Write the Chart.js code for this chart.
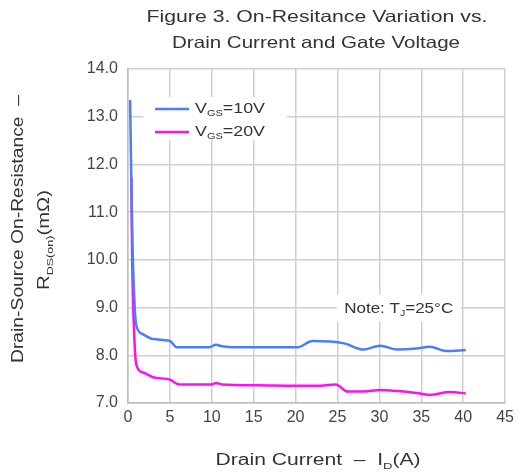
<!DOCTYPE html>
<html>
<head>
<meta charset="utf-8">
<script src="https://cdn.jsdelivr.net/npm/chart.js@4.4.1/dist/chart.umd.min.js"></script>
<style>
  html, body { margin: 0; padding: 0; background: #fff; }
  #chart { width: 519px; height: 474px; }
</style>
</head>
<body>
<div id="chart"><canvas id="c"></canvas></div>
<script>
// Drain current (A) and on-resistance (mOhm)
const current10 = [0.25, 0.5, 0.8, 1.0, 1.8, 3.0, 5.0, 5.8, 9.7, 10.5, 11.2, 12.8, 20.3, 22.0, 25.8, 28.1, 30.1, 32.1, 34.4, 36.0, 38.0, 40.3];
const rds10 = [13.35, 10.6, 9.0, 8.62, 8.44, 8.34, 8.3, 8.17, 8.17, 8.22, 8.19, 8.17, 8.17, 8.3, 8.25, 8.12, 8.2, 8.12, 8.14, 8.18, 8.09, 8.11];
const current20 = [0.4, 0.5, 0.75, 1.0, 1.8, 3.0, 5.0, 6.1, 10.0, 10.5, 11.2, 15.5, 20.3, 23.0, 24.8, 26.2, 28.1, 30.1, 32.1, 34.4, 36.0, 38.4, 40.3];
const rds20 = [11.72, 10.0, 8.4, 7.8, 7.64, 7.54, 7.49, 7.39, 7.39, 7.42, 7.39, 7.37, 7.36, 7.36, 7.39, 7.24, 7.24, 7.27, 7.25, 7.21, 7.17, 7.23, 7.2];
const xTicks = [0, 5, 10, 15, 20, 25, 30, 35, 40, 45];
const yTicks = [7, 8, 9, 10, 11, 12, 13, 14];

const FONT = '"Liberation Sans", Arial, sans-serif';
const TEXT = '#333';

// draw text made of normal and subscript parts, stretched to a given width
function drawRich(ctx, parts, x, y, size, width) {
  let w = 0;
  parts.forEach(p => {
    ctx.font = (p.sub ? size * 0.62 : size) + 'px ' + FONT;
    p.w = ctx.measureText(p.t).width;
    w += p.w;
  });
  const sx = width ? width / w : 1;
  ctx.save();
  ctx.translate(x, y);
  ctx.scale(sx, 1);
  let cx = -w / 2;
  ctx.textAlign = 'left';
  ctx.textBaseline = 'middle';
  parts.forEach(p => {
    ctx.font = (p.sub ? size * 0.62 : size) + 'px ' + FONT;
    ctx.fillText(p.t, cx, p.sub ? size * 0.3 : 0);
    cx += p.w;
  });
  ctx.restore();
}

const labelsPlugin = {
  id: 'labels',
  afterDraw(chart) {
    const ctx = chart.ctx;
    const xs = chart.scales.x, ys = chart.scales.y;
    ctx.save();
    ctx.fillStyle = TEXT;

    // title
    drawRich(ctx, [{ t: 'Figure 3. On-Resitance Variation vs.' }], 317, 17, 16.5, 341);
    drawRich(ctx, [{ t: 'Drain Current and Gate Voltage' }], 316, 43, 16.5, 288);

    // x axis title
    drawRich(ctx, [{ t: 'Drain Current  \u2013  I' }, { t: 'D', sub: true }, { t: '(A)' }], 318, 461, 16, 205);

    // y axis title (rotated)
    ctx.save();
    ctx.translate(19, 229);
    ctx.rotate(-Math.PI / 2);
    drawRich(ctx, [{ t: 'Drain-Source On-Resistance  \u2013' }], 0, 0, 16, 268);
    ctx.restore();
    ctx.save();
    ctx.translate(45, 240);
    ctx.rotate(-Math.PI / 2);
    drawRich(ctx, [{ t: 'R' }, { t: 'DS(on)', sub: true }, { t: '(m\u03a9)' }], 0, 0, 16, 100);
    ctx.restore();

    // legend box
    ctx.fillStyle = '#fff';
    ctx.fillRect(143, 97, 144, 43);
    const items = [
      { color: '#4a7dff', v: '10V', y: 109 },
      { color: '#ff10f0', v: '20V', y: 132 }
    ];
    items.forEach(it => {
      ctx.strokeStyle = it.color;
      ctx.lineWidth = 2.5;
      ctx.beginPath();
      ctx.moveTo(155, it.y);
      ctx.lineTo(189, it.y);
      ctx.stroke();
      ctx.fillStyle = TEXT;
      drawRich(ctx, [{ t: 'V' }, { t: 'GS', sub: true }, { t: '=' + it.v }], 230, it.y, 15, 70);
    });

    // note box
    const nx = xs.getPixelForValue(32.3), ny = ys.getPixelForValue(9.0);
    ctx.fillStyle = '#fff';
    ctx.fillRect(nx - 62, ny - 13, 124, 27);
    ctx.fillStyle = TEXT;
    drawRich(ctx, [{ t: 'Note: T' }, { t: 'J', sub: true }, { t: '=25\u00b0C' }], nx, ny + 1, 15, 109);
    ctx.restore();
  }
};

const toPoints = (xs, ys) => xs.map((x, i) => ({ x: x, y: ys[i] }));

new Chart(document.getElementById('c'), {
  type: 'line',
  data: {
    datasets: [
      {
        label: 'VGS=10V',
        data: toPoints(current10, rds10),
        borderColor: '#4a7dff',
        borderWidth: 2.5,
        pointRadius: 0,
        cubicInterpolationMode: 'monotone',
        fill: false
      },
      {
        label: 'VGS=20V',
        data: toPoints(current20, rds20),
        borderColor: '#ff10f0',
        borderWidth: 2.5,
        pointRadius: 0,
        cubicInterpolationMode: 'monotone',
        fill: false
      }
    ]
  },
  options: {
    responsive: true,
    maintainAspectRatio: false,
    animation: false,
    layout: { padding: { top: 69, right: 9, left: 0, bottom: 0 } },
    plugins: { legend: { display: false }, tooltip: { enabled: false } },
    scales: {
      x: {
        type: 'linear',
        min: 0,
        max: 45,
        afterFit: s => { s.height = 71; },
        afterBuildTicks: s => { s.ticks = xTicks.map(v => ({ value: v })); },
        ticks: { color: '#444', font: { family: FONT, size: 16 }, padding: 5, callback: v => v },
        grid: { color: '#cfcfcf', lineWidth: 1.5, drawTicks: false },
        border: { color: '#bdbdbd', width: 1.5 }
      },
      y: {
        min: 7,
        max: 14,
        afterFit: s => { s.width = 128; },
        afterBuildTicks: s => { s.ticks = yTicks.map(v => ({ value: v })); },
        ticks: { color: '#444', font: { family: FONT, size: 16 }, padding: 10, callback: v => v.toFixed(1) },
        grid: { color: '#cfcfcf', lineWidth: 1.5, drawTicks: false },
        border: { color: '#bdbdbd', width: 1.5 }
      }
    }
  },
  plugins: [labelsPlugin]
});
</script>
</body>
</html>
